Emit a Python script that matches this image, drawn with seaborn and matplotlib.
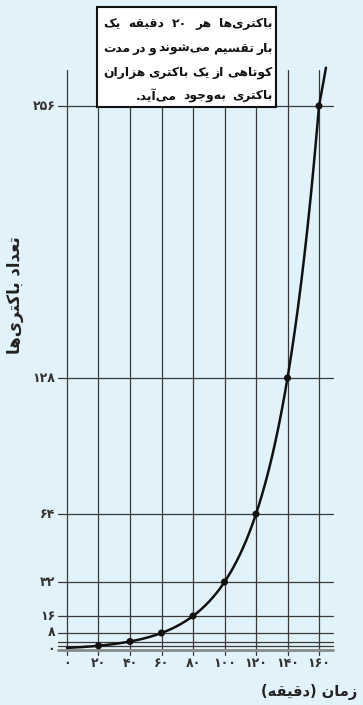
import re
import numpy as np
import matplotlib
matplotlib.use("Agg")
import matplotlib.pyplot as plt
from matplotlib.patches import Rectangle
import seaborn as sns

# ---------------- data ----------------
time_min = [0, 20, 40, 60, 80, 100, 120, 140, 160]
bacteria = [1, 2, 4, 8, 16, 32, 64, 128, 256]
curve_end_t = 164.4   # where the drawn curve stops
curve_end_n = 274

x_ticks = [0, 20, 40, 60, 80, 100, 120, 140, 160]
y_ticks = [0, 8, 16, 32, 64, 128, 256]
h_grid = [2, 4, 8, 16, 32, 64, 128, 256]

note_lines = [
    "باکتری‌ها هر ۲۰ دقیقه یک",
    "بار تقسیم می‌شوند و در مدت",
    "کوتاهی از یک باکتری هزاران",
    "باکتری به‌وجود می‌آید.",
]
x_label = "زمان (دقیقه)"
y_label = "تعداد باکتری‌ها"

# ---------------- Persian shaping helpers ----------------
FORMS = {
    '\u0627': ('R', '\ufe8d', '\ufe8e'),
    '\u0622': ('R', '\ufe81', '\ufe82'),
    '\u062f': ('R', '\ufea9', '\ufeaa'),
    '\u0631': ('R', '\ufead', '\ufeae'),
    '\u0632': ('R', '\ufeaf', '\ufeb0'),
    '\u0648': ('R', '\ufeed', '\ufeee'),
    '\u0628': ('D', '\ufe8f', '\ufe90', '\ufe91', '\ufe92'),
    '\u062a': ('D', '\ufe95', '\ufe96', '\ufe97', '\ufe98'),
    '\u062c': ('D', '\ufe9d', '\ufe9e', '\ufe9f', '\ufea0'),
    '\u0633': ('D', '\ufeb1', '\ufeb2', '\ufeb3', '\ufeb4'),
    '\u0634': ('D', '\ufeb5', '\ufeb6', '\ufeb7', '\ufeb8'),
    '\u0639': ('D', '\ufec9', '\ufeca', '\ufecb', '\ufecc'),
    '\u0642': ('D', '\ufed5', '\ufed6', '\ufed7', '\ufed8'),
    '\u0645': ('D', '\ufee1', '\ufee2', '\ufee3', '\ufee4'),
    '\u0646': ('D', '\ufee5', '\ufee6', '\ufee7', '\ufee8'),
    '\u0647': ('D', '\ufee9', '\ufeea', '\ufeeb', '\ufeec'),
    '\u06cc': ('D', '\ufbfc', '\ufbfd', '\ufbfe', '\ufbff'),
    '\u06a9': ('D', '\ufb8e', '\ufb8f', '\ufb90', '\ufb91'),
}
MIRROR = {'(': ')', ')': '('}


def shape(s):
    chars = list(s)
    n = len(chars)
    out = []
    for i, c in enumerate(chars):
        if c == '\u200c':
            continue
        if c not in FORMS:
            out.append(c)
            continue
        f = FORMS[c]
        prev = chars[i - 1] if i > 0 else None
        nxt = chars[i + 1] if i < n - 1 else None
        jp = prev in FORMS and FORMS[prev][0] == 'D'
        jn = f[0] == 'D' and nxt in FORMS
        if f[0] == 'R':
            out.append(f[2] if jp else f[1])
        else:
            if jp and jn:
                out.append(f[4])
            elif jp:
                out.append(f[2])
            elif jn:
                out.append(f[3])
            else:
                out.append(f[1])
    tokens = re.findall(r'[0-9\u06f0-\u06f9]+|.', ''.join(out))
    tokens = [MIRROR.get(t, t) for t in reversed(tokens)]
    return ''.join(tokens)


FA = str.maketrans('0123456789', '۰۱۲۳۴۵۶۷۸۹')


def fa(v):
    return str(v).translate(FA)


# ---------------- figure ----------------
sns.set_theme(style="white")
plt.rcParams['font.family'] = ['DejaVu Sans']

W, H = 363, 705
fig = plt.figure(figsize=(W / 100, H / 100), dpi=100)
bg = '#e1f2fa'
fig.patch.set_facecolor(bg)
ax = fig.add_axes([0, 0, 1, 1])
ax.set_facecolor(bg)

# pixel -> data mapping (x0 at px 67, 1.575 px per minute; y0 at px 650, 2.125 px per unit)
px_x, sx = 67.0, 1.575
px_y, sy = 650.0, 2.125
ax.set_xlim(-px_x / sx, (W - px_x) / sx)
ax.set_ylim((px_y - H) / sy, px_y / sy)
ax.axis('off')

grid_col = '#3a3a3a'
x_left, x_right = -5.7, 168.9
y_bot, y_top = -2.4, 273.0

for xv in x_ticks:
    ax.plot([xv, xv], [y_bot, y_top], color=grid_col, lw=0.9, zorder=1)
for yv in h_grid:
    ax.plot([x_left, x_right], [yv, yv], color=grid_col, lw=0.9, zorder=1)
ax.plot([x_left, x_right], [0, 0], color='#8a8a8a', lw=2.0, zorder=1)

# smooth display path through the read points (log-space)
pts_t = np.array(time_min + [curve_end_t], dtype=float)
pts_n = np.array(bacteria + [curve_end_n], dtype=float)
xs = np.linspace(pts_t[0], pts_t[-1], 400)
ys = 2 ** np.interp(xs, pts_t, np.log2(pts_n))
sns.lineplot(x=xs, y=ys, ax=ax, color='#111111', lw=1.8, sort=False,
             estimator=None, zorder=3)
sns.scatterplot(x=time_min[1:], y=bacteria[1:], ax=ax, color='#111111',
                s=26, edgecolor='none', zorder=4)

# tick labels
for xv in x_ticks:
    ax.text(xv, -6.3, fa(xv), ha='center', va='center', fontsize=9,
            color='#333333', fontweight='bold')
for yv in y_ticks:
    ax.text(-7.4, yv, fa(yv), ha='right', va='center', fontsize=9,
            color='#333333', fontweight='bold')

# axis titles
ax.text(184.1, -19.8, shape(x_label), ha='right', va='center', fontsize=10.5,
        fontweight='bold', color='#222222')
ax.text(-33.0, 167.0, shape(y_label), ha='center', va='center', fontsize=12,
        fontweight='bold', color='#222222', rotation=90)

# note box
box = Rectangle((19.0, 255.3), 113.7, 47.3, facecolor='white',
                edgecolor='#111111', lw=1.5, zorder=5)
ax.add_patch(box)

line_y = [294.6, 283.0, 271.6, 260.8]
tx_left, tx_right = 22.8, 130.5
fig.canvas.draw()
renderer = fig.canvas.get_renderer()
inv = ax.transData.inverted()


def measure(words, fs):
    res = []
    for w in words:
        t = ax.text(0, 0, w, fontsize=fs, fontweight='bold')
        bb = t.get_window_extent(renderer)
        p0 = inv.transform((bb.x0, bb.y0))
        p1 = inv.transform((bb.x1, bb.y0))
        res.append(p1[0] - p0[0])
        t.remove()
    return res


shaped_lines = [[shape(w) for w in ln.split(' ')] for ln in note_lines]
fs = 11.0
min_gap = 1.4  # data units
while fs > 6:
    ok = True
    for words in shaped_lines:
        need = sum(measure(words, fs)) + min_gap * (len(words) - 1)
        if need > tx_right - tx_left:
            ok = False
            break
    if ok:
        break
    fs -= 0.1

for k, (words, ly) in enumerate(zip(shaped_lines, line_y)):
    widths = measure(words, fs)
    gap = (tx_right - tx_left - sum(widths)) / max(len(words) - 1, 1)
    if k == len(shaped_lines) - 1:
        gap = min(gap, 4.0)
    x = tx_right
    for w, wd in zip(words, widths):
        ax.text(x, ly, w, ha='right', va='center', fontsize=fs,
                fontweight='bold', color='#111111', zorder=6)
        x -= wd + gap

fig.savefig('out.png', dpi=100, facecolor=bg)
